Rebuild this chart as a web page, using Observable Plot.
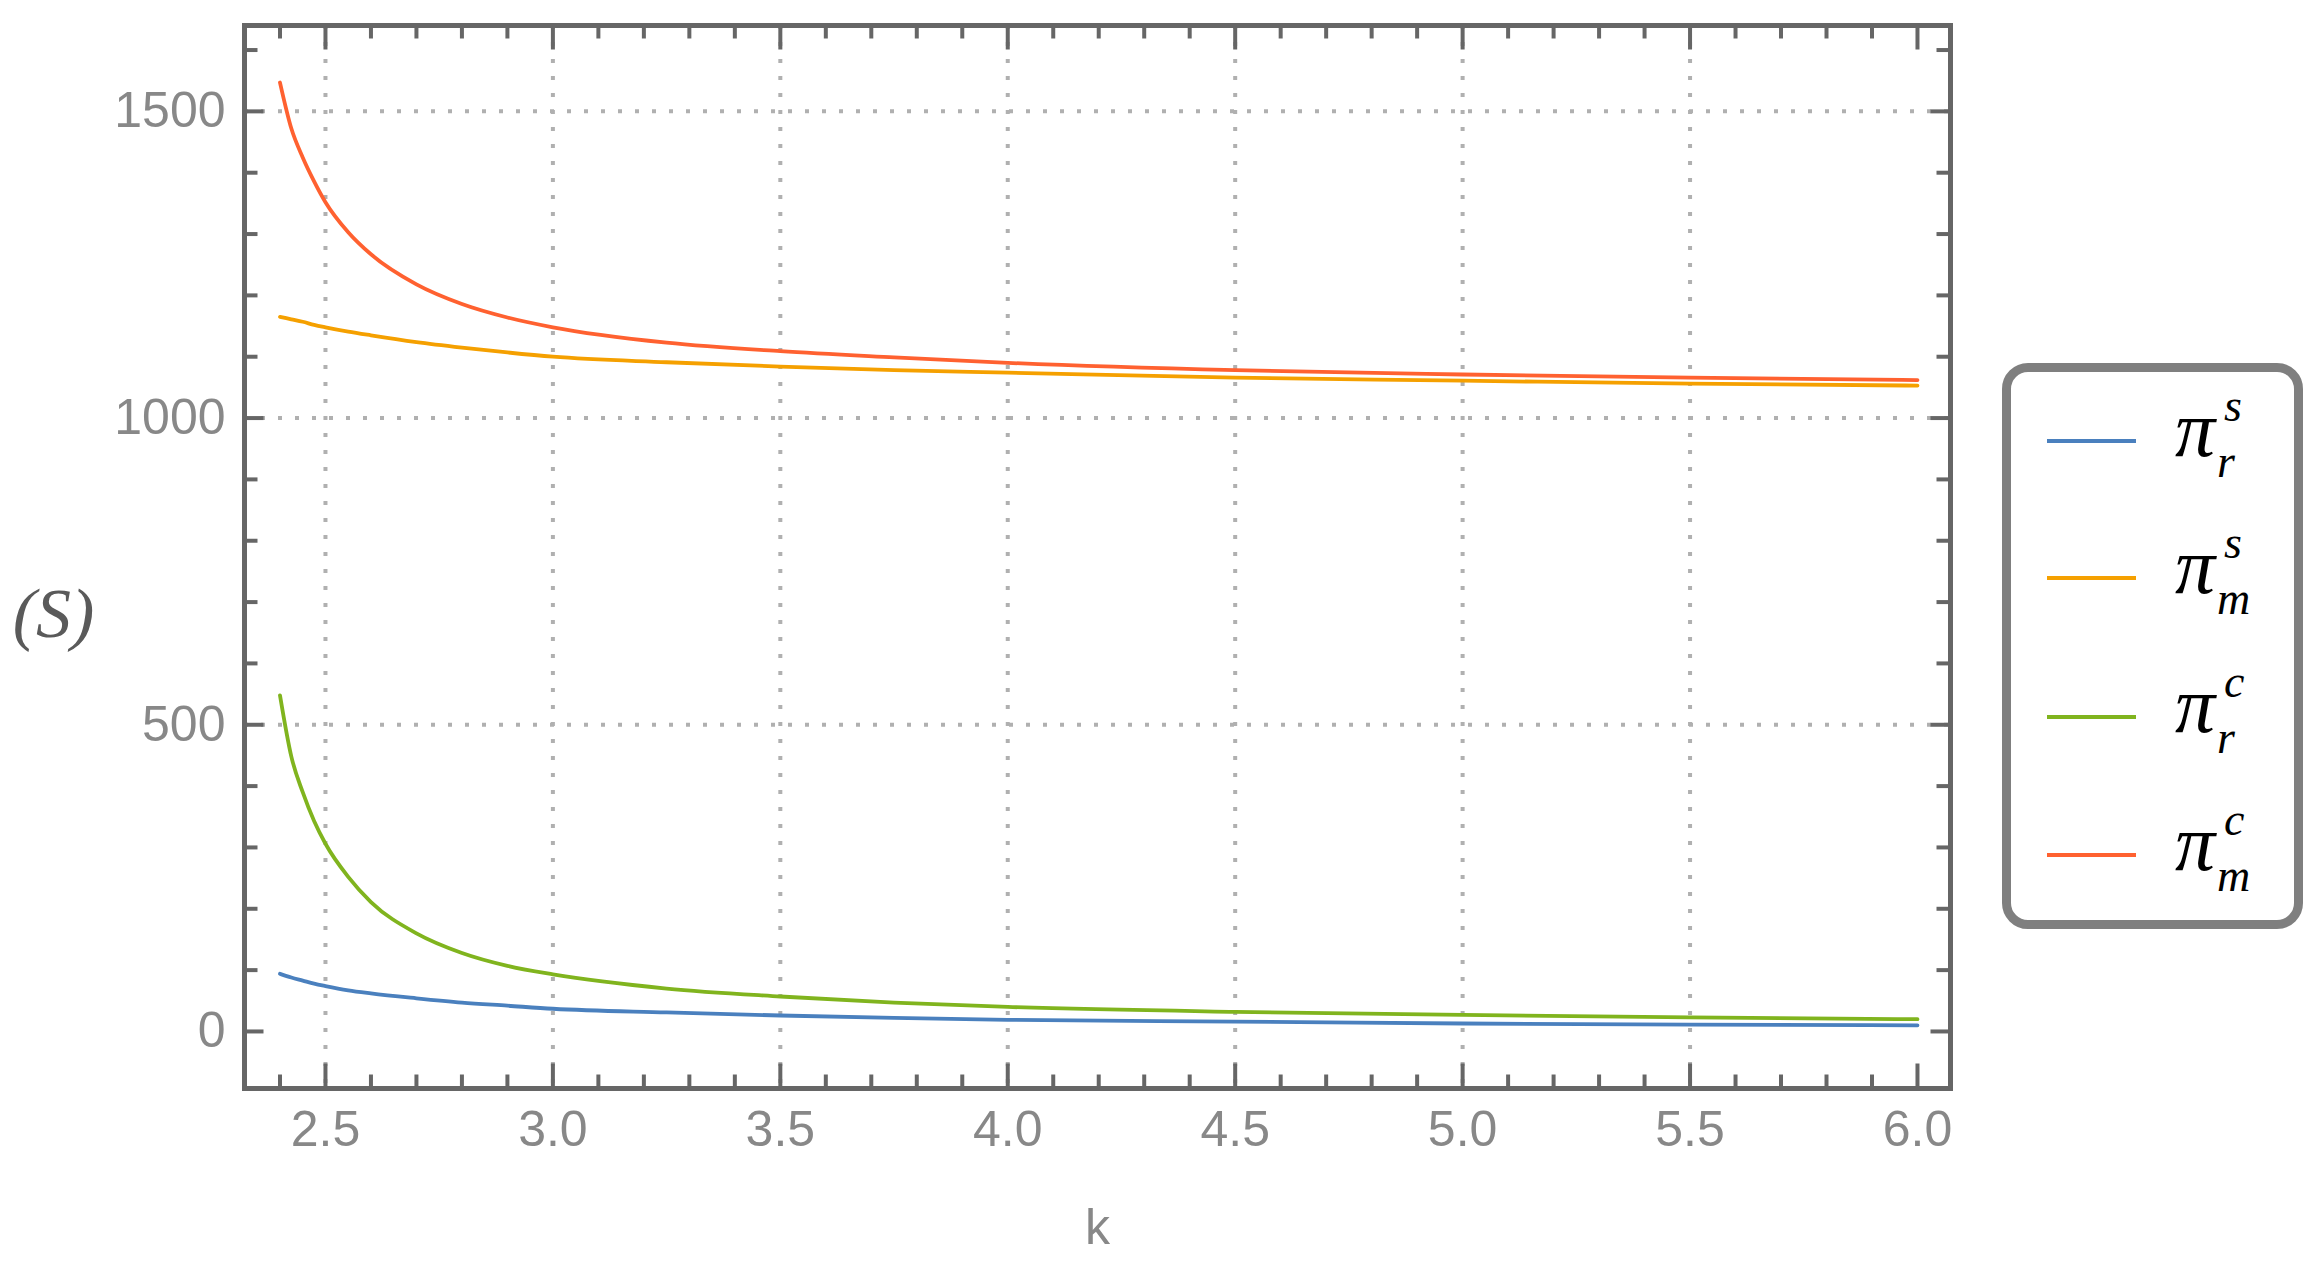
<!DOCTYPE html>
<html>
<head>
<meta charset="utf-8">
<script src="https://cdn.jsdelivr.net/npm/d3@7"></script>
<script src="https://cdn.jsdelivr.net/npm/@observablehq/plot@0.6"></script>
<style>
  body { margin: 0; background: #fff; }
  #wrap { position: relative; width: 2322px; height: 1266px; overflow: hidden; }
  #legend { position: absolute; left: 2002px; top: 363px; width: 301px; height: 566px;
            box-sizing: border-box; border: 9px solid #7f7f7f; border-radius: 26px; background: #fff; }
  .entry { position: absolute; left: 0; width: 100%; height: 0; }
  .swatch { position: absolute; left: 36px; width: 89px; height: 4px; top: -2px; }
  .pi { position: absolute; left: 164px; top: -52px; font: italic 80px "Liberation Serif"; line-height: 1; color: #000; }
  .sup { position: absolute; left: 213px; top: -58px; font: italic 46px "Liberation Serif"; line-height: 1; color: #000; }
  .sub { position: absolute; left: 206px; top: -2px; font: italic 46px "Liberation Serif"; line-height: 1; color: #000; }
</style>
</head>
<body>
<div id="wrap"></div>
<script>
// ---- data ----
const kValues = [2.4, 2.425, 2.45, 2.475, 2.5, 2.55, 2.6, 2.7, 2.8, 2.9, 3.0, 3.25, 3.5, 3.75, 4.0, 4.5, 5.0, 5.5, 6.0];
const piRs = [94, 88, 83, 78, 74, 67, 62, 54, 47, 42, 37, 31, 26, 22, 19, 16, 13, 11, 10];
const piMs = [1165, 1161, 1157, 1152, 1148, 1141, 1135, 1124, 1115, 1107, 1100, 1091, 1084, 1078, 1074, 1066, 1061, 1056, 1053];
const piRc = [548, 448, 390, 343, 306, 252, 211, 160, 128, 107, 93, 70, 57, 47, 40, 32, 27, 23, 20];
const piMc = [1547, 1472, 1425, 1386, 1352, 1303, 1267, 1218, 1186, 1164, 1148, 1123, 1109, 1099, 1090, 1078, 1071, 1066, 1062];

const seriesKeys = ["rs", "ms", "rc", "mc"];
const seriesSup = ["s", "s", "c", "c"];
const seriesSub = ["r", "m", "r", "m"];
const seriesColors = ["#4a80be", "#f5a000", "#80b41e", "#ff6130"];
const seriesValues = [piRs, piMs, piRc, piMc];

const xMajorTicks = [2.5, 3.0, 3.5, 4.0, 4.5, 5.0, 5.5, 6.0];
const xMinorTicks = [2.4, 2.6, 2.7, 2.8, 2.9, 3.1, 3.2, 3.3, 3.4, 3.6, 3.7, 3.8, 3.9, 4.1, 4.2, 4.3, 4.4,
                     4.6, 4.7, 4.8, 4.9, 5.1, 5.2, 5.3, 5.4, 5.6, 5.7, 5.8, 5.9];
const xGrid = [2.5, 3.0, 3.5, 4.0, 4.5, 5.0, 5.5];
const yMajorTicks = [0, 500, 1000, 1500];
const yMinorTicks = [100, 200, 300, 400, 600, 700, 800, 900, 1100, 1200, 1300, 1400, 1600];
const yGrid = [500, 1000, 1500];
const xLabel = "k";
const yLabel = "(S)";

// ---- build table ----
const rows = [];
seriesKeys.forEach((s, i) => kValues.forEach((k, j) => rows.push({k, v: seriesValues[i][j], s})));

const W = 2322, H = 1266;
const mL = 244, mR = 372, mT = 25, mB = 178;
const innerW = W - mL - mR, innerH = H - mT - mB;
const frameCol = "#666";
const majX = 24.5, majY = 19.5, minLen = 13.5;

const chart = Plot.plot({
  width: W, height: H,
  marginLeft: mL, marginRight: mR, marginTop: mT, marginBottom: mB,
  x: {domain: [2.322, 6.0726]},
  y: {domain: [-93, 1640]},
  color: {domain: seriesKeys, range: seriesColors},
  style: {fontFamily: "Liberation Sans", background: "#fff"},
  marks: [
    Plot.ruleX(xGrid, {x: d => d, stroke: "#b0b0b0", strokeWidth: 4, strokeDasharray: "4,13"}),
    Plot.ruleY(yGrid, {y: d => d, stroke: "#b0b0b0", strokeWidth: 4, strokeDasharray: "4,13"}),
    Plot.line(rows, {x: "k", y: "v", z: "s", stroke: "s", strokeWidth: 3.8, curve: "monotone-x"}),
    // inward ticks on all four sides
    Plot.tickX(xMajorTicks, {x: d => d, insetTop: innerH - majX, stroke: frameCol, strokeWidth: 4}),
    Plot.tickX(xMinorTicks, {x: d => d, insetTop: innerH - minLen, stroke: frameCol, strokeWidth: 4}),
    Plot.tickX(xMajorTicks, {x: d => d, insetBottom: innerH - majX, stroke: frameCol, strokeWidth: 4}),
    Plot.tickX(xMinorTicks, {x: d => d, insetBottom: innerH - minLen, stroke: frameCol, strokeWidth: 4}),
    Plot.tickY(yMajorTicks, {y: d => d, insetRight: innerW - majY, stroke: frameCol, strokeWidth: 4}),
    Plot.tickY(yMinorTicks, {y: d => d, insetRight: innerW - minLen, stroke: frameCol, strokeWidth: 4}),
    Plot.tickY(yMajorTicks, {y: d => d, insetLeft: innerW - majY, stroke: frameCol, strokeWidth: 4}),
    Plot.tickY(yMinorTicks, {y: d => d, insetLeft: innerW - minLen, stroke: frameCol, strokeWidth: 4}),
    Plot.frame({stroke: frameCol, strokeWidth: 5}),
    Plot.axisX({ticks: xMajorTicks, tickSize: 0, tickPadding: 22, label: null,
                tickFormat: d3.format(".1f"), fontSize: 50, fill: "#888"}),
    Plot.axisY({ticks: yMajorTicks, tickSize: 0, tickPadding: 19, label: null,
                tickFormat: d => String(d), fontSize: 50, fill: "#888"}),
    Plot.text([xLabel], {frameAnchor: "bottom", dy: 155, fontSize: 50, fill: "#888", text: d => d}),
    Plot.text([yLabel], {frameAnchor: "left", dx: -191, dy: 58, fontSize: 70, fill: "#5a5a5a",
                         textAnchor: "middle", fontFamily: "Liberation Serif", fontStyle: "italic", text: d => d})
  ]
});

const wrap = document.getElementById("wrap");
wrap.appendChild(chart);

// ---- legend ----
const legend = document.createElement("div");
legend.id = "legend";
const entryTops = [69, 206, 345, 483];
seriesKeys.forEach((s, i) => {
  const e = document.createElement("div");
  e.className = "entry";
  e.style.top = entryTops[i] + "px";
  e.innerHTML = `<div class="swatch" style="background:${seriesColors[i]}"></div>` +
    `<span class="pi">π</span><span class="sup">${seriesSup[i]}</span><span class="sub">${seriesSub[i]}</span>`;
  legend.appendChild(e);
});
wrap.appendChild(legend);
</script>
</body>
</html>
